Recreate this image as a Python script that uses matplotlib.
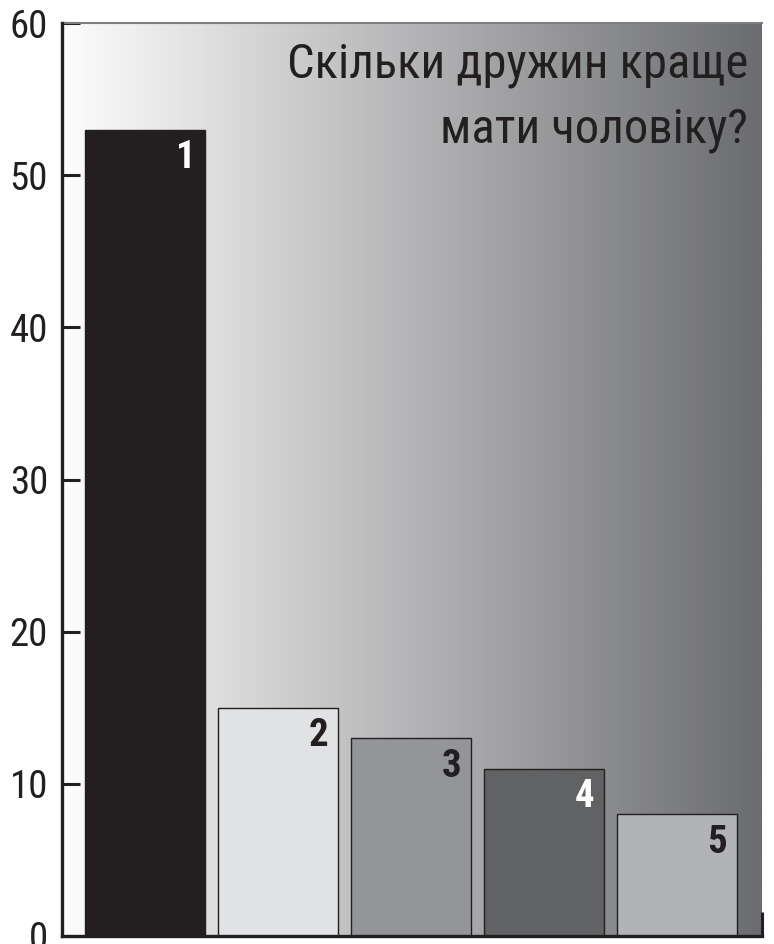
import numpy as np
import matplotlib
matplotlib.use("Agg")
import matplotlib.pyplot as plt
from matplotlib.colors import LinearSegmentedColormap

# Data
categories = ["1", "2", "3", "4", "5"]
values = [53, 15, 13, 11, 8]
bar_colors = ["#231f20", "#e1e2e4", "#939598", "#616264", "#b1b3b6"]
label_colors = ["white", "#231f20", "#231f20", "white", "#231f20"]
yticks = [0, 10, 20, 30, 40, 50, 60]
title = "Скільки дружин краще\nмати чоловіку?"

plt.rcParams['font.family'] = ['Roboto Condensed', 'DejaVu Sans']

fig = plt.figure(figsize=(7.74, 9.44), dpi=100)
W, H = 774, 944
ax = fig.add_axes([62 / W, (H - 936) / H, (762 - 62) / W, (936 - 23) / H])

# Gradient background
cmap = LinearSegmentedColormap.from_list("bg", ["#fdfdfd", "#6b6c6f"])
grad = np.linspace(0, 1, 512).reshape(1, -1)
ax.imshow(grad, extent=[0, 1, 0, 1], transform=ax.transAxes, aspect='auto',
          cmap=cmap, zorder=0, interpolation='bicubic')

x = np.arange(len(categories))
bars = ax.bar(x, values, width=0.903, color=bar_colors, edgecolor="#231f20",
              linewidth=1.0, zorder=2)

for xi, v, c, lab in zip(x, values, label_colors, categories):
    ax.annotate(lab, xy=(xi + 0.903 / 2, v), xytext=(-7, -7),
                textcoords='offset points', ha='right', va='top',
                fontsize=28, fontweight='bold', color=c, zorder=3)

ax.set_xlim(-0.628, 4.64)
ax.set_ylim(0, 60)
ax.set_yticks(yticks)
ax.set_yticklabels([str(t) for t in yticks], fontsize=28, color="#231f20")
ax.tick_params(axis='y', direction='in', length=13, width=2.2, color="#231f20", pad=10)
ax.set_xticks([4.64])
ax.set_xticklabels([""])
ax.tick_params(axis='x', direction='in', length=17, width=2.2, color="#231f20")

for s in ['left', 'bottom']:
    ax.spines[s].set_linewidth(2.4)
    ax.spines[s].set_color("#231f20")
    ax.spines[s].set_zorder(4)
ax.spines['right'].set_visible(False)
ax.spines['top'].set_color("#7d7e80")
ax.spines['top'].set_linewidth(1.5)

ax.text(0.98, 0.979, title, transform=ax.transAxes, ha='right', va='top',
        fontsize=35, color="#231f20", linespacing=1.5, zorder=3)

fig.savefig("out.png", dpi=100)
